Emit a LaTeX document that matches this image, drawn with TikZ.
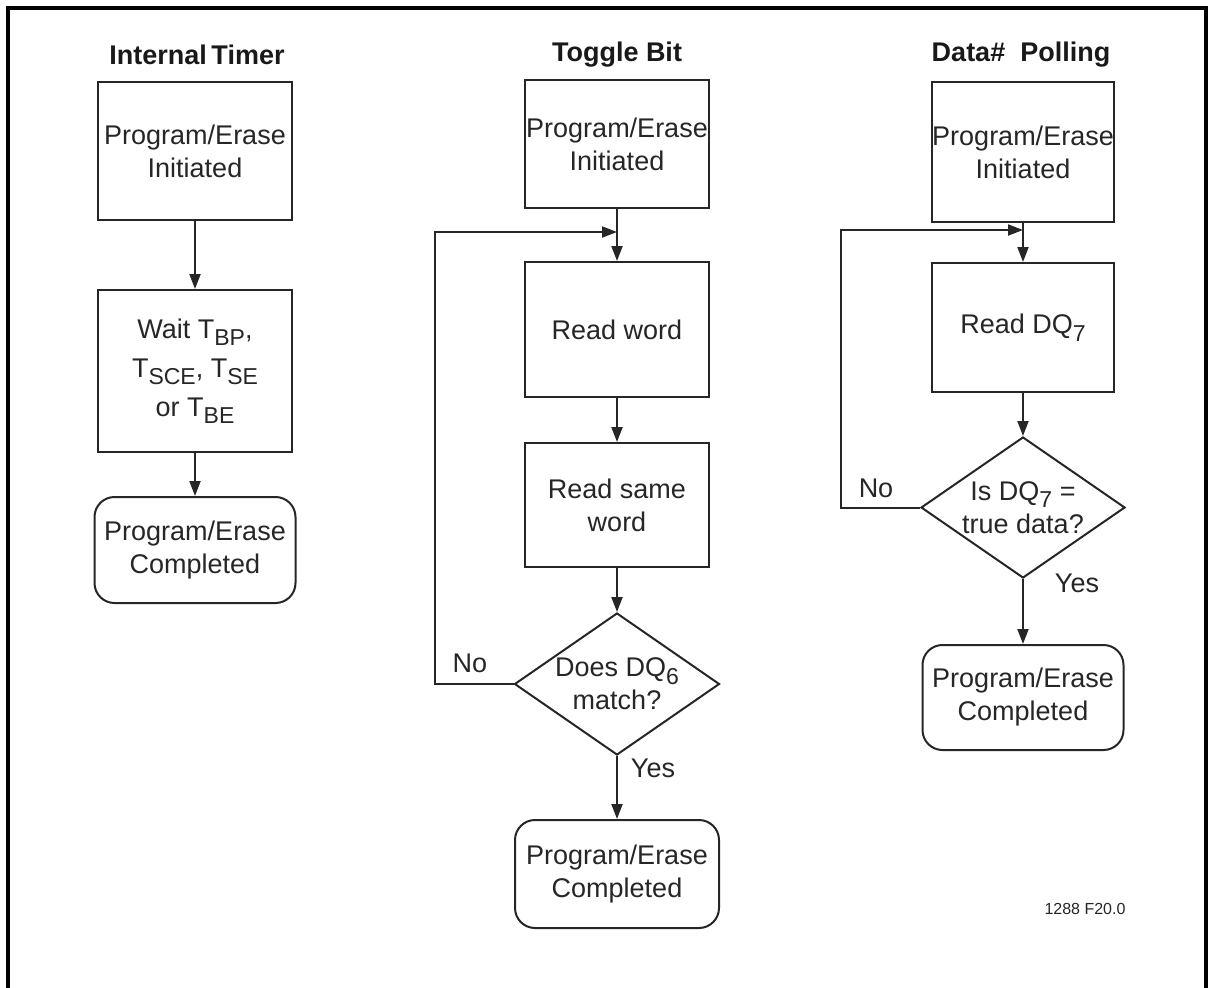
\documentclass[tikz,border=0pt]{standalone}
\usepackage{fontspec}
\setmainfont{Liberation Sans}
\usetikzlibrary{shapes.geometric,arrows.meta}
\newcommand{\lo}[1]{\raisebox{-0.28em}{\fontsize{23}{26}\selectfont #1}}
\tikzset{
  txt/.style={font=\fontsize{27}{33}\selectfont, align=center, text=black!85},
  boxnode/.style={draw=black!85, line width=2pt, rectangle, txt, inner sep=0pt},
  endnode/.style={boxnode, rounded corners=20pt},
  decnode/.style={draw=black!85, line width=2pt, diamond, inner sep=0pt},
  ttl/.style={font=\fontsize{27}{33}\selectfont\bfseries, text=black!90},
  arr/.style={draw=black!85, line width=2pt, -{Triangle[length=15pt,width=11pt]}},
  lbl/.style={txt}
}
\begin{document}
\begin{tikzpicture}[x=1pt,y=-1pt]
\useasboundingbox (0,0) rectangle (1213,988);
\draw[line width=4pt] (8,995) -- (8,8) -- (1206,8) -- (1206,995);

% Column 1
\node[ttl] (t1) at (197,55) {Internal\,Timer};
\node[boxnode, minimum width=194pt, minimum height=138pt] (a1) at (195,151) {Program/Erase\\Initiated};
\node[boxnode, minimum width=194pt, minimum height=162pt] (a2) at (195,371)
  {Wait T\lo{BP},\\[6pt] T\lo{SCE}, T\lo{SE}\\[6pt] or T\lo{BE}};
\node[endnode, minimum width=201pt, minimum height=106pt] (a3) at (195,550) {Program/Erase\\Completed};
\draw[arr] (a1.south) -- (a2.north);
\draw[arr] (a2.south) -- (a3.north);

% Column 2
\node[ttl] (t2) at (617,55) {Toggle Bit};
\node[boxnode, minimum width=184pt, minimum height=128pt] (b1) at (617,144) {Program/Erase\\Initiated};
\node[boxnode, minimum width=184pt, minimum height=135pt] (b2) at (617,329.5) {Read word};
\node[boxnode, minimum width=184pt, minimum height=124pt] (b3) at (617,505) {Read same\\word};
\node[decnode, minimum width=205pt, minimum height=142pt,
  label={[txt]center:Does DQ\lo{6}\\match?}] (b4) at (617,684) {};
\node[endnode, minimum width=204pt, minimum height=108pt] (b5) at (617,874) {Program/Erase\\Completed};
\coordinate (bj) at (617,232);
\coordinate (bl) at (435,684);
\draw[arr] (b1.south) -- (b2.north);
\draw[arr] (b4.west) -- (bl) |- (bj);
\draw[arr] (b2.south) -- (b3.north);
\draw[arr] (b3.south) -- (b4.north);
\draw[arr] (b4.south) -- (b5.north);
\node[lbl] (bno) at (470,663) {No};
\node[lbl] (byes) at (653,768) {Yes};

% Column 3
\node[ttl] (t3) at (1021,55) {Data\#\ \ Polling};
\node[boxnode, minimum width=182pt, minimum height=140pt] (c1) at (1023,152) {Program/Erase\\Initiated};
\node[boxnode, minimum width=182pt, minimum height=129pt] (c2) at (1023,327.5) {Read DQ\lo{7}};
\node[decnode, minimum width=204pt, minimum height=141pt,
  label={[txt]center:Is DQ\lo{7} =\\true data?}] (c3) at (1023,507.5) {};
\node[endnode, minimum width=201pt, minimum height=105pt] (c4) at (1023,697.5) {Program/Erase\\Completed};
\coordinate (cj) at (1023,230);
\coordinate (cl) at (841,507.5);
\draw[arr] (c1.south) -- (c2.north);
\draw[arr] (c3.west) -- (cl) |- (cj);
\draw[arr] (c2.south) -- (c3.north);
\draw[arr] (c3.south) -- (c4.north);
\node[lbl] (cno) at (876,488) {No};
\node[lbl] (cyes) at (1077,583) {Yes};

\node[font=\fontsize{16}{19}\selectfont, text=black!85] (fig) at (1085,909) {1288 F20.0};
\end{tikzpicture}
\end{document}
